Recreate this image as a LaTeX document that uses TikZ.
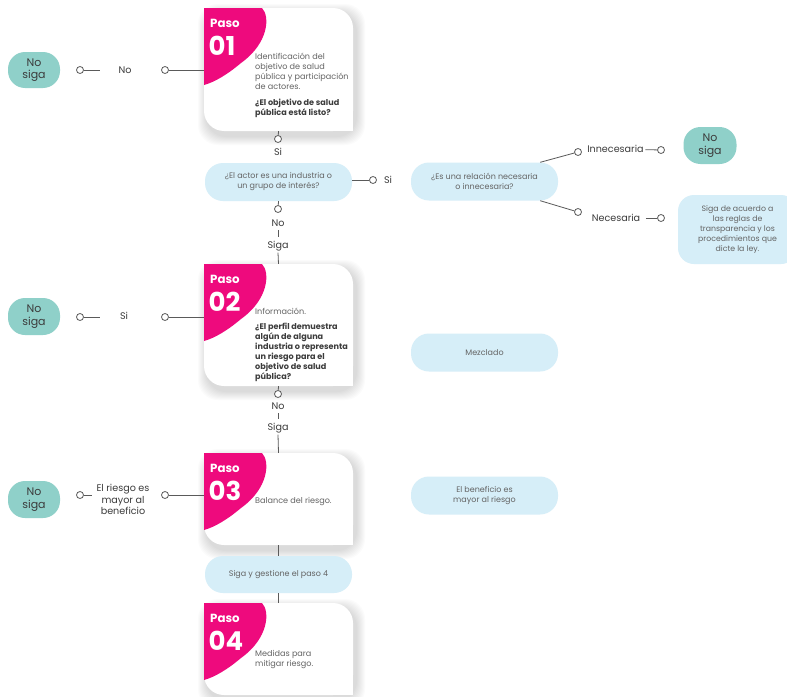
\documentclass[tikz,border=0pt]{standalone}
\usepackage{fontspec}
\setmainfont{Poppins}
\definecolor{pk}{RGB}{238,10,125}
\definecolor{teal}{RGB}{143,208,201}
\definecolor{lb}{RGB}{214,238,248}
\definecolor{ln}{RGB}{90,90,90}
\definecolor{tx}{RGB}{100,100,100}
\definecolor{dk}{RGB}{60,60,60}
\tikzset{
  conn/.style={draw=ln, line width=0.8pt},
  dot/.style={circle, draw=ln, fill=white, line width=0.8pt, inner sep=0pt, minimum size=7pt},
  lbl/.style={font=\fontsize{9.6}{11.5}\selectfont, text=dk, inner sep=1.5pt, align=center},
  pill/.style={rectangle, rounded corners=18pt, fill=lb, minimum width=147pt, minimum height=38pt, inner sep=0pt, align=center, font=\fontsize{8}{10}\selectfont, text=tx},
  nosiga/.style={rectangle, rounded corners=17pt, fill=teal, minimum width=52pt, minimum height=36pt, inner sep=0pt, align=center, font=\fontsize{11}{12.5}\selectfont, text=dk},
  pasolbl/.style={anchor=west, inner sep=0pt, font=\bfseries\fontsize{11.8}{12}\selectfont, text=white},
  pasonum/.style={anchor=west, inner sep=0pt, font=\bfseries\fontsize{26}{27}\selectfont, text=white},
  cardtxt/.style={anchor=north west, inner sep=0pt, align=left, font=\fontsize{8.1}{10}\selectfont, text=tx},
}
\newcommand\pasocard[4]{%
  \foreach \i in {1,...,9}{\fill[black,opacity=0.015,rounded corners=20pt] (204-\i+3,#2-\i+5) rectangle (353+\i+3,#3+\i+5);}
  \fill[white,rounded corners=20pt] (204,#2) rectangle (353,#3);
  \fill[white] (204,#2) rectangle (234,#2+30);
  \fill[white] (323,#3-30) rectangle (353,#3);
  \fill[pk] (204,#2) -- (262,#2) .. controls (270,#2+8) and (269,#2+35) .. (241,#2+55)
     .. controls (228,#2+66) and (215,#2+74) .. (204,#2+77) -- cycle;
  \node[pasolbl] (#1p) at (210,#2+15) {Paso};
  \node[pasonum] (#1n) at (208.5,#2+37.5) {#4};
  \pgfmathsetmacro\cardc{(#2+#3)/2}
  \pgfmathsetmacro\cardh{#3-#2}
  \node[inner sep=0pt, minimum width=149pt, minimum height=\cardh pt] (#1) at (278.5,\cardc) {};
}
\begin{document}
\begin{tikzpicture}[x=1pt,y=-1pt]
\useasboundingbox (0,0) rectangle (787,696);
\fill[white] (0,0) rectangle (787,696);

% step cards
\pasocard{c1}{8}{131}{01}
\node[cardtxt] (t1) at (255,53) {Identificación del\\objetivo de salud\\pública y participación\\de actores.\\[6pt]
  {\bfseries\color{dk}¿El objetivo de salud}\\{\bfseries\color{dk}pública está listo?}};
\pasocard{c2}{264}{386}{02}
\node[cardtxt] (t2) at (255,308) {Información.\\[5pt]
  {\bfseries\color{dk}¿El perfil demuestra}\\{\bfseries\color{dk}algún de alguna}\\{\bfseries\color{dk}industria o representa}\\{\bfseries\color{dk}un riesgo para el}\\{\bfseries\color{dk}objetivo de salud}\\{\bfseries\color{dk}pública?}};
\pasocard{c3}{453}{545}{03}
\node[cardtxt] (t3) at (255,497) {Balance del riesgo.};
\pasocard{c4}{603}{695}{04}
\node[cardtxt] (t4) at (255,650) {Medidas para\\mitigar riesgo.};

% pills
\node[pill] (q1) at (278.5,182) {¿El actor es una industria o\\un grupo de interés?};
\node[pill] (q2) at (484.5,181.5) {¿Es una relación necesaria\\o innecesaria?};
\node[pill] (q3) at (484.5,352.5) {Mezclado};
\node[pill] (q4) at (484.5,495.5) {El beneficio es\\mayor al riesgo};
\node[pill, minimum height=37pt] (q5) at (278.5,574.5) {Siga y gestione el paso 4};
\node[rectangle, rounded corners=16pt, fill=lb, minimum width=119pt, minimum height=69pt, inner sep=0pt, align=center, font=\fontsize{7.8}{10.1}\selectfont, text=tx] (q6) at (737.5,229.5)
  {Siga de acuerdo a\\las reglas de\\transparencia y los\\procedimientos que\\dicte la ley.};

% no siga
\node[nosiga] (ns1) at (34,70) {No\\siga};
\node[nosiga, minimum height=37pt] (ns2) at (34,316.5) {No\\siga};
\node[nosiga, minimum height=37pt] (ns3) at (34,499.5) {No\\siga};
\node[nosiga, minimum width=53pt, minimum height=37pt] (ns4) at (710,145.5) {No\\siga};

% --- step 1 left
\node[dot] (d1a) at (165,70) {};
\node[lbl] (l1) at (125,70) {No};
\node[dot] (d1b) at (80,70) {};
\coordinate (e1) at (100,70);
\draw[conn] (d1a) -- (d1a -| c1.west);
\draw[conn] (d1b) -- (e1);

% --- step 1 down
\node[dot] (d2) at (278,139) {};
\node[lbl] (s2) at (278,152) {Si};
\draw[conn] (c1.south) -- (d2);

% --- q1 right
\node[dot] (d5) at (373,180) {};
\node[lbl] (s5) at (388,179.5) {Si};
\draw[conn] (q1.east |- d5) -- (d5);

% --- q2 branches
\node[dot] (d6) at (578,152) {};
\node[lbl] (inn) at (615.5,149) {Innecesaria};
\node[dot] (d8) at (661,150) {};
\draw[conn] ([xshift=-18pt]q2.north east) -- (d6);
\draw[conn] (inn) -- (d8);
\node[dot] (d7) at (578,212) {};
\node[lbl] (nec) at (616,218) {Necesaria};
\node[dot] (d9) at (661,218) {};
\draw[conn] ([xshift=-18pt]q2.south east) -- (d7);
\draw[conn] ([xshift=4pt]nec.east) -- (d9);

% --- q1 down
\node[dot] (d3) at (278,209) {};
\node[lbl] (n3) at (278,223) {No};
\node[lbl] (g3) at (278,246) {Siga};
\draw[conn] (q1.south) -- (d3);
\draw[conn] ([yshift=-2pt]n3.south) -- ([yshift=2pt]g3.north);
\draw[conn] (g3.south) -- (c2.north);

% --- step 2 left
\node[dot] (d4a) at (165,317) {};
\node[lbl] (l4) at (124,316) {Si};
\node[dot] (d4b) at (80,317) {};
\coordinate (e4) at (100,317);
\draw[conn] (d4a) -- (d4a -| c2.west);
\draw[conn] (d4b) -- (e4);

% --- step 2 down
\node[dot] (d10) at (278,394) {};
\node[lbl] (n10) at (278,406) {No};
\node[lbl] (g10) at (278,428) {Siga};
\draw[conn] (c2.south) -- (d10);
\draw[conn] ([yshift=-2pt]n10.south) -- ([yshift=2pt]g10.north);
\draw[conn] (g10.south) -- (c3.north);

% --- step 3 left
\node[dot] (d11a) at (165,495) {};
\node[lbl] (l11) at (123,499.5) {El riesgo es\\mayor al\\beneficio};
\node[dot] (d11b) at (80,495) {};
\coordinate (e11) at (92,495);
\draw[conn] (d11a) -- (d11a -| c3.west);
\draw[conn] (d11b) -- (e11);

% --- step 3 down
\draw[conn] (c3.south) -- (q5.north);
\draw[conn] (q5.south) -- (c4.north);
\end{tikzpicture}
\end{document}
